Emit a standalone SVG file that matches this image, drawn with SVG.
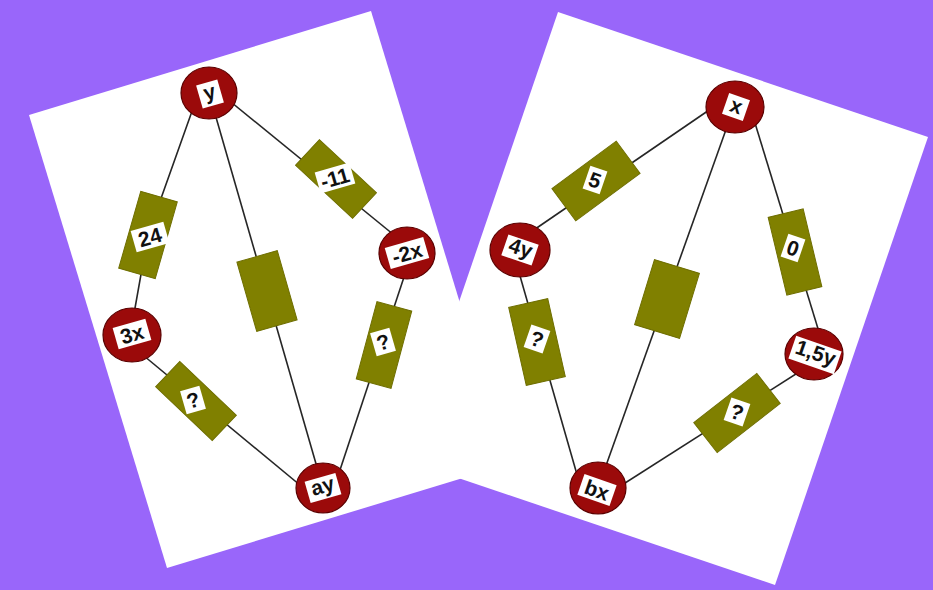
<svg xmlns="http://www.w3.org/2000/svg" width="933" height="590" viewBox="0 0 933 590">
<style>
.page{fill:#ffffff}
.wire{stroke:#262626;stroke-width:1.6;fill:none}
.res{fill:#808000;stroke:#6e6e00;stroke-width:1}
.dot{fill:#9b0a0a;stroke:#5a0000;stroke-width:1.2}
.lbl{fill:#ffffff}
.t{font-family:"Liberation Sans",Arial,sans-serif;font-weight:bold;font-size:21px;fill:#111;text-anchor:middle}
</style>
<rect x="0" y="0" width="933" height="590" fill="#9966fa"/>
<polygon class="page" points="29,115 371,11 509,464 167,568"/>
<polygon class="page" points="558,12 928,137 775,585 405,460"/>

<g id="connectors">
<polyline class="wire" points="196,100 148,235 132,325"/>
<line class="wire" x1="209" y1="93" x2="323" y2="488"/>
<line class="wire" x1="215" y1="89" x2="405" y2="244"/>
<line class="wire" x1="412" y1="253" x2="334" y2="488"/>
<line class="wire" x1="132" y1="346" x2="318" y2="500"/>
<line class="wire" x1="715" y1="106" x2="525" y2="236"/>
<line class="wire" x1="733" y1="110" x2="598" y2="488"/>
<line class="wire" x1="751" y1="110" x2="823" y2="345"/>
<line class="wire" x1="810" y1="365" x2="600" y2="499"/>
<line class="wire" x1="514" y1="255" x2="580" y2="485"/>
</g>

<!-- left sheet resistors -->
<g id="r24">
<rect class="res" x="-19" y="-40" width="38" height="80" transform="translate(148,235) rotate(16)"/>
<g transform="translate(150,237) rotate(-16)"><rect class="lbl" x="-17" y="-11" width="34" height="22"/><text class="t" y="7.5">24</text></g>
</g>
<g id="rmid1">
<rect class="res" x="-21" y="-36" width="42" height="72" transform="translate(267,291) rotate(-16)"/>
</g>
<g id="rm11">
<rect class="res" x="-39" y="-17.5" width="78" height="35" transform="translate(336,179) rotate(43)"/>
<g transform="translate(335,178) rotate(-16)"><rect class="lbl" x="-18" y="-11" width="36" height="22"/><text class="t" y="7.5">-11</text></g>
</g>
<g id="rq1">
<rect class="res" x="-18" y="-40" width="36" height="80" transform="translate(384,345) rotate(15)"/>
<g transform="translate(383,342) rotate(-16)"><rect class="lbl" x="-10" y="-12" width="20" height="24"/><text class="t" y="7.5">?</text></g>
</g>
<g id="rq2">
<rect class="res" x="-39" y="-17.5" width="78" height="35" transform="translate(196,401) rotate(43.5)"/>
<g transform="translate(193,400) rotate(-16)"><rect class="lbl" x="-10" y="-12" width="20" height="24"/><text class="t" y="7.5">?</text></g>
</g>

<!-- left sheet nodes -->
<g id="ny">
<ellipse class="dot" cx="209" cy="93" rx="28" ry="26"/>
<g transform="translate(210,94) rotate(-16)"><rect class="lbl" x="-11" y="-12" width="22" height="24"/><text class="t" y="5">y</text></g>
</g>
<g id="nm2x">
<ellipse class="dot" cx="407" cy="253" rx="28" ry="26"/>
<g transform="translate(407,253) rotate(-16)"><rect class="lbl" x="-20" y="-11" width="40" height="22"/><text class="t" y="7.5">-2x</text></g>
</g>
<g id="n3x">
<ellipse class="dot" cx="132" cy="335" rx="29" ry="27"/>
<g transform="translate(132,334) rotate(-16)"><rect class="lbl" x="-17" y="-11" width="34" height="22"/><text class="t" y="7.5">3x</text></g>
</g>
<g id="nay">
<ellipse class="dot" cx="323" cy="488" rx="27" ry="25"/>
<g transform="translate(323,488) rotate(-16)"><rect class="lbl" x="-16" y="-11" width="32" height="22"/><text class="t" y="5">ay</text></g>
</g>

<!-- right sheet resistors -->
<g id="r5">
<rect class="res" x="-40" y="-20" width="80" height="40" transform="translate(596,181) rotate(-36.5)"/>
<g transform="translate(595,180) rotate(19)"><rect class="lbl" x="-9" y="-12" width="18" height="24"/><text class="t" y="7.5">5</text></g>
</g>
<g id="rmid2">
<rect class="res" x="-23.5" y="-34" width="47" height="68" transform="translate(667,299) rotate(17)"/>
</g>
<g id="r0">
<rect class="res" x="-18" y="-40" width="36" height="80" transform="translate(795,252) rotate(-13.5)"/>
<g transform="translate(793,248) rotate(19)"><rect class="lbl" x="-9" y="-12" width="18" height="24"/><text class="t" y="7.5">0</text></g>
</g>
<g id="rq3">
<rect class="res" x="-20" y="-40" width="40" height="80" transform="translate(537,342) rotate(-12.7)"/>
<g transform="translate(537,339) rotate(19)"><rect class="lbl" x="-10" y="-12" width="20" height="24"/><text class="t" y="7.5">?</text></g>
</g>
<g id="rq4">
<rect class="res" x="-40" y="-19" width="80" height="38" transform="translate(737,413) rotate(-38)"/>
<g transform="translate(737,412) rotate(19)"><rect class="lbl" x="-10" y="-12" width="20" height="24"/><text class="t" y="7.5">?</text></g>
</g>

<!-- right sheet nodes -->
<g id="nx">
<ellipse class="dot" cx="735" cy="107" rx="29" ry="26"/>
<g transform="translate(736,107) rotate(19)"><rect class="lbl" x="-11" y="-11" width="22" height="22"/><text class="t" y="6">x</text></g>
</g>
<g id="n4y">
<ellipse class="dot" cx="520" cy="250" rx="30" ry="27"/>
<g transform="translate(520,250) rotate(19)"><rect class="lbl" x="-16" y="-11" width="32" height="22"/><text class="t" y="5">4y</text></g>
</g>
<g id="n15y">
<ellipse class="dot" cx="814" cy="354" rx="29" ry="26"/>
<g transform="translate(815,355) rotate(19)"><rect class="lbl" x="-24" y="-12" width="48" height="24"/><text class="t" y="5">1,5y</text></g>
</g>
<g id="nbx">
<ellipse class="dot" cx="598" cy="488" rx="28" ry="26"/>
<g transform="translate(597,490) rotate(19)"><rect class="lbl" x="-17" y="-11" width="34" height="22"/><text class="t" y="7.5">bx</text></g>
</g>
</svg>
